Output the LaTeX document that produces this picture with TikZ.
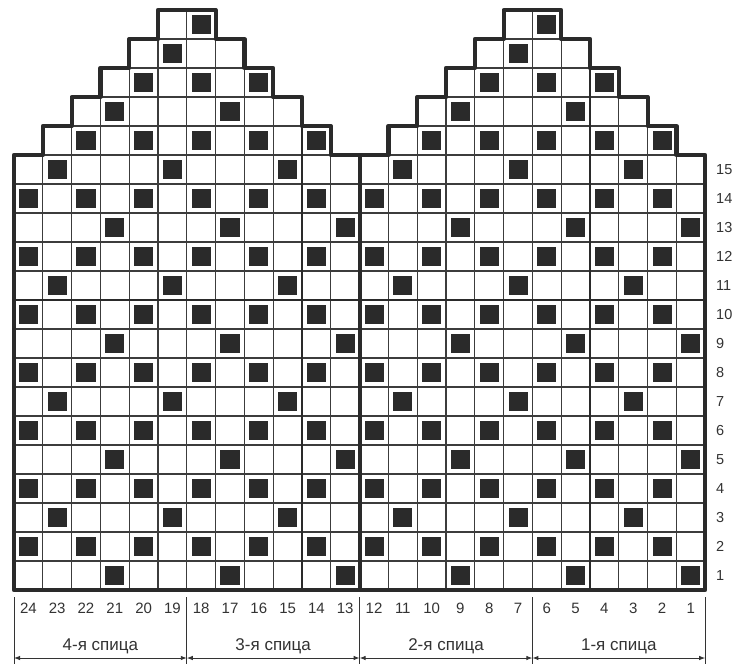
\documentclass[tikz,border=0pt]{standalone}
\usepackage{fontspec}
\setmainfont{Liberation Sans}
\usetikzlibrary{arrows.meta}
\definecolor{ink}{HTML}{2A2A2A}
\definecolor{gridc}{HTML}{3C3C3C}
\definecolor{txt}{HTML}{333333}
\tikzset{
  gridline/.style={draw=gridc, line width=1.1pt},
  darkcell/.style={fill=ink},
  border/.style={draw=ink, line width=4.2pt, line join=round},
  midline/.style={draw=ink, line width=2.4pt},
  numlabel/.style={font=\fontsize{15}{17}\selectfont, text=txt, inner sep=0pt},
  rowlabel/.style={font=\fontsize{14.5}{17}\selectfont, text=txt, inner sep=0pt, anchor=west},
  spicalabel/.style={font=\fontsize{17}{19}\selectfont, text=txt, inner sep=0pt},
  tickline/.style={draw=txt, line width=0.9pt},
  dimarrow/.style={draw=txt, line width=0.9pt, {Latex[length=6pt,width=4.5pt]}-{Latex[length=6pt,width=4.5pt]}}
}
\begin{document}
\begin{tikzpicture}[x=1pt,y=1pt]
\useasboundingbox (0,0) rectangle (736,-664);
\fill[white] (0,0) rectangle (736,-664);
\begin{scope}[shift={(14pt,-590pt)}, x=28.8pt, y=29pt]
  % cells and dark squares
  \foreach \m in {0,12}{
    \foreach \r in {1,...,20}{
      \pgfmathtruncatemacro\lo{max(0,\r-15)}
      \pgfmathtruncatemacro\hi{\r>15 ? 11-(\r-15) : 11}
      \foreach \c in {\lo,...,\hi}{
        \pgfmathtruncatemacro\dk{((mod(\r,2)==0) && (mod(\c,2)==0)) || ((mod(\r,4)==1) && (mod(\c,4)==3)) || ((mod(\r,4)==3) && (mod(\c,4)==1)) ? 1 : 0}
        \draw[gridline] (\m+\c,\r-1) rectangle +(1,1);
        \ifnum\dk=1
          \fill[darkcell] (\m+\c+0.17,\r-1+0.17) rectangle +(0.66,0.66);
        \fi
      }
    }
  }
  % interior thick lines
  \draw[midline] (0,10) -- (24,10);
  \draw[midline] (10,0) -- (10,16);
  \draw[midline] (20,0) -- (20,18);
  % outlines of the two mittens
  \foreach \m in {0,12}{
    \begin{scope}[xshift=\m*28.8pt]
      \draw[border] (0,0) -- (0,15) -- (1,15) -- (1,16) -- (2,16) -- (2,17) -- (3,17) -- (3,18) -- (4,18) -- (4,19) -- (5,19) -- (5,20) -- (7,20) -- (7,19) -- (8,19) -- (8,18) -- (9,18) -- (9,17) -- (10,17) -- (10,16) -- (11,16) -- (11,15) -- (12,15) -- (12,0) -- cycle;
    \end{scope}
  }
\end{scope}
% column numbers
\foreach \c in {0,...,23}{
  \pgfmathtruncatemacro\n{24-\c}
  \node[numlabel] (col\n) at ({14+28.8*(\c+0.5)},-608) {\n};
}
% row numbers
\foreach \r in {1,...,15}{
  \node[rowlabel] (row\r) at (716,{-590+29*(\r-0.5)}) {\r};
}
% ticks and dimension arrows
\foreach \i/\e in {0/0,1/6,2/12,3/18,4/24}{
  \coordinate (tt\i) at ({14+28.8*\e},-597);
  \coordinate (tb\i) at ({14+28.8*\e},-664);
  \coordinate (ta\i) at ({14+28.8*\e},-658);
  \draw[tickline] (tt\i) -- (tb\i);
}
\draw[dimarrow] (ta0) -- (ta1);
\draw[dimarrow] (ta1) -- (ta2);
\draw[dimarrow] (ta2) -- (ta3);
\draw[dimarrow] (ta3) -- (ta4);
\node[spicalabel] (sp4) at ({14+28.8*3},-646) {4-я спица};
\node[spicalabel] (sp3) at ({14+28.8*9},-646) {3-я спица};
\node[spicalabel] (sp2) at ({14+28.8*15},-646) {2-я спица};
\node[spicalabel] (sp1) at ({14+28.8*21},-646) {1-я спица};
\end{tikzpicture}
\end{document}
